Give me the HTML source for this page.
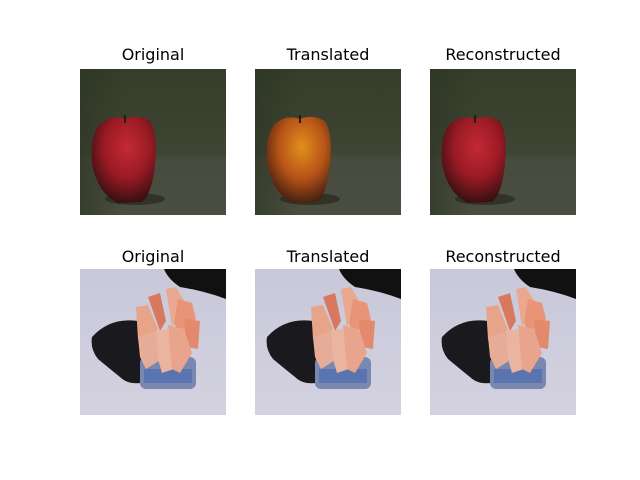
<!DOCTYPE html>
<html><head><meta charset="utf-8"><style>
html,body{margin:0;padding:0;background:#fff;}
svg{display:block}
text{font-family:"DejaVu Sans","Liberation Sans",sans-serif;font-size:16px;fill:#000}
</style></head><body>
<svg width="640" height="480" viewBox="0 0 640 480" xmlns="http://www.w3.org/2000/svg">
<defs>
<linearGradient id="bgA" x1="0" y1="0" x2="0" y2="1">
<stop offset="0" stop-color="#363d2a"/><stop offset="0.58" stop-color="#3f4433"/><stop offset="0.62" stop-color="#484c3e"/><stop offset="1" stop-color="#4a4e40"/>
</linearGradient>
<linearGradient id="bgAside" x1="0" y1="0" x2="1" y2="0">
<stop offset="0" stop-color="#2a3322" stop-opacity="0.6"/><stop offset="0.3" stop-color="#2a3322" stop-opacity="0"/>
</linearGradient>
<radialGradient id="red" cx="0.55" cy="0.35" r="0.65">
<stop offset="0" stop-color="#c42a34"/><stop offset="0.55" stop-color="#9a1a24"/><stop offset="1" stop-color="#3a1012"/>
</radialGradient>
<radialGradient id="orange" cx="0.55" cy="0.35" r="0.65">
<stop offset="0" stop-color="#e0901c"/><stop offset="0.55" stop-color="#b85418"/><stop offset="1" stop-color="#4a2210"/>
</radialGradient>
<linearGradient id="bgB" x1="0" y1="0" x2="0" y2="1">
<stop offset="0" stop-color="#c8c8da"/><stop offset="1" stop-color="#d4d2e0"/>
</linearGradient>
<g id="appleBg">
<rect width="146" height="146" fill="url(#bgA)"/>
<rect width="146" height="146" fill="url(#bgAside)"/>
<ellipse cx="55" cy="130" rx="30" ry="6" fill="#26281c" opacity="0.7"/>
</g>
<path id="apple" d="M20 55 Q30 45 45 50 Q58 45 70 52 Q78 65 75 95 Q72 125 62 133 L38 134 Q18 125 12 95 Q10 65 20 55 Z"/>
<g id="orangeScene">
<rect width="146" height="146" fill="url(#bgB)"/>
<path d="M84 0 L146 0 L146 30 Q125 22 100 18 Q88 10 84 0 Z" fill="#111"/>
<path d="M12 68 Q30 48 58 52 L70 112 Q50 118 40 108 Q30 100 18 90 Q10 80 12 68 Z" fill="#1a1a1e"/>
<rect x="60" y="88" width="56" height="32" rx="6" fill="#7888b0"/>
<rect x="64" y="100" width="48" height="14" fill="#5a74b0"/>
<path d="M56 38 L68 36 L78 60 L64 80 L58 70 Z" fill="#e8a488"/>
<path d="M68 28 L80 24 L86 52 L80 62 Z" fill="#d8785e"/>
<path d="M86 20 L96 18 L104 32 L92 58 Z" fill="#eaa890"/>
<path d="M98 30 L112 34 L116 50 L100 64 L94 55 Z" fill="#e89478"/>
<path d="M104 50 L120 52 L118 80 L106 78 Z" fill="#e38a6c"/>
<path d="M58 68 L76 62 L82 90 L66 100 L60 88 Z" fill="#e6ac98"/>
<path d="M76 62 L88 60 L94 100 L82 104 L78 90 Z" fill="#eab4a0"/>
<path d="M88 56 L104 60 L112 84 L100 104 L92 100 Z" fill="#e8a48c"/>
</g>
</defs>
<text x="153" y="60" text-anchor="middle">Original</text>
<text x="328" y="60" text-anchor="middle">Translated</text>
<text x="503" y="60" text-anchor="middle">Reconstructed</text>
<text x="153" y="262" text-anchor="middle">Original</text>
<text x="328" y="262" text-anchor="middle">Translated</text>
<text x="503" y="262" text-anchor="middle">Reconstructed</text>

<g transform="translate(80,69)"><use href="#appleBg"/><use href="#apple" fill="url(#red)"/><rect x="44" y="46" width="2" height="8" fill="#2a1a10"/></g>
<g transform="translate(255,69)"><use href="#appleBg"/><use href="#apple" fill="url(#orange)"/><rect x="44" y="46" width="2" height="8" fill="#2a1a10"/></g>
<g transform="translate(430,69)"><use href="#appleBg"/><use href="#apple" fill="url(#red)"/><rect x="44" y="46" width="2" height="8" fill="#2a1a10"/></g>

<g transform="translate(80,269)"><use href="#orangeScene"/></g>
<g transform="translate(255,269)"><use href="#orangeScene"/></g>
<g transform="translate(430,269)"><use href="#orangeScene"/></g>
</svg>
</body></html>
